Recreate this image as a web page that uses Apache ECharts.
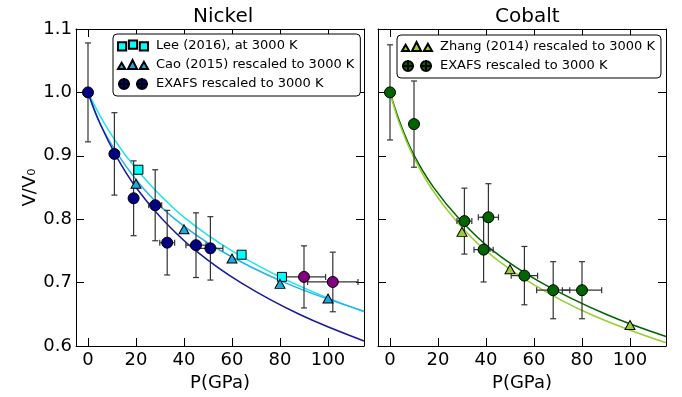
<!DOCTYPE html>
<html>
<head>
<meta charset="utf-8">
<script src="https://cdn.jsdelivr.net/npm/echarts@6.0.0/dist/echarts.min.js"></script>
<style>
  html, body { margin: 0; padding: 0; background: #fff; }
  #chart { width: 682px; height: 397px; }
</style>
</head>
<body>
<div id="chart"></div>
<script>
// tick values on the pressure axis (GPa)
const pTicks = [0, 20, 40, 60, 80, 100]

// ---- Nickel ----
// [P, V/V0]
const niLee = [[21, 0.878], [64, 0.744], [80.8, 0.709]]
const niCao = [[20, 0.856], [40, 0.784], [60, 0.738], [80, 0.698], [100, 0.675]]
// [P, V/V0, P error, V/V0 error]
const niExafs = [
  [0, 1.0, 0, 0.078], [11, 0.903, 0, 0.065], [19, 0.833, 0, 0.059],
  [28, 0.822, 2.7, 0.056], [33, 0.763, 3.1, 0.051], [45, 0.759, 4.2, 0.051],
  [51, 0.754, 5.2, 0.05],
]
const niExafsHot = [[90, 0.709, 9, 0.049], [102, 0.701, 10.5, 0.047]]
// fitted curves
const niLeeFit = [[0, 1.0], [7, 0.95], [16, 0.899], [27, 0.85], [41, 0.8], [60, 0.75], [85, 0.7], [115, 0.654]]
const niCaoFit = [[0, 1.0], [5, 0.951], [13, 0.899], [23, 0.849], [36, 0.801], [55, 0.751], [82, 0.7], [115, 0.655]]
const niExafsFit = [[0, 1.0], [5, 0.951], [12, 0.898], [20, 0.85], [31, 0.8], [45, 0.75], [64, 0.699], [88, 0.65], [115, 0.608]]

// ---- Cobalt ----
const coZhang = [[30, 0.78], [50, 0.721], [100, 0.633]]
const coExafs = [
  [0, 1.0, 0, 0.075], [10, 0.95, 0, 0.068], [31, 0.797, 3.1, 0.052],
  [39, 0.752, 4, 0.051], [41, 0.803, 4.2, 0.053], [56, 0.711, 5.5, 0.046],
  [68, 0.688, 6.9, 0.045], [80, 0.688, 8.2, 0.045],
]
const coExafsFit = [[0, 1.0], [4.4, 0.95], [10, 0.901], [18, 0.851], [29, 0.8], [43, 0.75], [63, 0.7], [90, 0.65], [115, 0.615]]
const coZhangFit = [[0, 1.0], [4, 0.95], [9.6, 0.9], [17, 0.85], [27, 0.8], [40, 0.75], [58.5, 0.7], [83.5, 0.65], [115, 0.605]]

const FONT = 'DejaVu Sans'

// legend icons: several markers like matplotlib draws them
const squaresIcon = 'path://M0,4h9v9h-9zM12,2h9v9h-9zM24,4h9v9h-9z'
const trianglesIcon = 'path://M0,13L4,6L8,13zM11,13L16,3L21,13zM24,13L28.5,5L33,13z'
const dotsIcon = 'path://M1,6a5,5 0 1,0 10,0a5,5 0 1,0 -10,0zM19,6a5,5 0 1,0 10,0a5,5 0 1,0 -10,0zM6,0V12M0,6H12M24,0V12M18,6H30'

function seg(x1, y1, x2, y2) {
  return { type: 'line', shape: { x1, y1, x2, y2 }, style: { stroke: '#333', lineWidth: 1.2 } }
}

// error bars with caps
function errorBars(params, api) {
  const x = api.value(0), y = api.value(1), dx = api.value(2), dy = api.value(3)
  const c = 3
  const t = api.coord([x, y + dy]), b = api.coord([x, y - dy])
  const kids = [
    seg(t[0], t[1], b[0], b[1]),
    seg(t[0] - c, t[1], t[0] + c, t[1]),
    seg(b[0] - c, b[1], b[0] + c, b[1]),
  ]
  if (dx > 0) {
    const l = api.coord([x - dx, y]), r = api.coord([x + dx, y])
    kids.push(seg(l[0], l[1], r[0], r[1]), seg(l[0], l[1] - c, l[0], l[1] + c), seg(r[0], r[1] - c, r[0], r[1] + c))
  }
  return { type: 'group', children: kids }
}

function xAxisFor(grid, pos) {
  const bottom = pos === 'bottom'
  return {
    type: 'value', gridIndex: grid, position: pos, min: -5, max: 115,
    name: bottom ? 'P(GPa)' : '', nameLocation: 'middle', nameGap: 26,
    nameTextStyle: { fontSize: 18, fontFamily: FONT, color: '#000' },
    axisLine: { show: true, onZero: false, lineStyle: { color: '#000', width: 1 } },
    axisTick: { show: true, inside: true, length: 8, customValues: pTicks, lineStyle: { color: '#000' } },
    axisLabel: { show: bottom, customValues: pTicks, margin: 5, fontSize: 18, fontFamily: FONT, color: '#000' },
    splitLine: { show: false },
  }
}

function yAxisFor(grid, pos, labels) {
  return {
    type: 'value', gridIndex: grid, position: pos, min: 0.6, max: 1.1, interval: 0.1,
    name: labels ? 'V/V\u2080' : '', nameLocation: 'middle', nameGap: 36,
    nameTextStyle: { fontSize: 18, fontFamily: FONT, color: '#000' },
    axisLine: { show: true, onZero: false, lineStyle: { color: '#000', width: 1 } },
    axisTick: { show: true, inside: true, length: 8, lineStyle: { color: '#000' } },
    axisLabel: { show: labels, margin: 4, fontSize: 18, fontFamily: FONT, color: '#000', formatter: v => v.toFixed(1) },
    splitLine: { show: false },
  }
}

function fitLine(name, data, color, xi, yi) {
  return {
    name, type: 'line', data, xAxisIndex: xi, yAxisIndex: yi,
    smooth: 0.4, showSymbol: false, symbol: 'none', z: 2,
    lineStyle: { color, width: 1.5 }, silent: true,
  }
}

function dots(name, data, color, symbol, size, xi, yi) {
  return {
    name, type: 'scatter', data, xAxisIndex: xi, yAxisIndex: yi, symbol, symbolSize: size, z: 5,
    itemStyle: { color, borderColor: '#000', borderWidth: 1, opacity: 1 },
  }
}

function bars(data, xi, yi) {
  return { type: 'custom', data, xAxisIndex: xi, yAxisIndex: yi, renderItem: errorBars, z: 3, silent: true,
    encode: { x: 0, y: 1 } }
}

const legendBase = {
  orient: 'vertical', itemWidth: 30, itemHeight: 12, itemGap: 6, selectedMode: false,
  borderColor: '#000', borderWidth: 1, borderRadius: 4, padding: [5, 6, 5, 4],
  backgroundColor: '#fff',
  textStyle: { fontSize: 13, fontFamily: FONT, color: '#000', padding: [0, 0, 0, 3] },
}

const option = {
  animation: false,
  backgroundColor: '#fff',
  title: [
    { text: 'Nickel', left: 188, top: 2, textStyle: { fontSize: 20, fontWeight: 'normal', fontFamily: FONT, color: '#000' } },
    { text: 'Cobalt', left: 490, top: 2, textStyle: { fontSize: 20, fontWeight: 'normal', fontFamily: FONT, color: '#000' } },
  ],
  grid: [
    { left: 76, top: 29, width: 288, height: 317 },
    { left: 378, top: 29, width: 288, height: 317 },
  ],
  xAxis: [xAxisFor(0, 'bottom'), xAxisFor(0, 'top'), xAxisFor(1, 'bottom'), xAxisFor(1, 'top')],
  yAxis: [yAxisFor(0, 'left', true), yAxisFor(0, 'right', false), yAxisFor(1, 'left', false), yAxisFor(1, 'right', false)],
  legend: [
    Object.assign({}, legendBase, {
      left: 113, top: 34,
      data: [
        { name: 'Lee (2016), at 3000 K', icon: squaresIcon },
        { name: 'Cao (2015) rescaled to 3000 K', icon: trianglesIcon },
        { name: 'EXAFS rescaled to 3000 K', icon: dotsIcon },
      ],
    }),
    Object.assign({}, legendBase, {
      left: 397, top: 35,
      data: [
        { name: 'Zhang (2014) rescaled to 3000 K', icon: trianglesIcon },
        { name: 'EXAFS rescaled to 3000 K ', icon: dotsIcon },
      ],
    }),
  ],
  series: [
    fitLine('Ni Lee fit', niLeeFit, '#19e6f0', 0, 0),
    fitLine('Ni Cao fit', niCaoFit, '#22b4ea', 0, 0),
    fitLine('Ni EXAFS fit', niExafsFit, '#1a1a9a', 0, 0),
    bars(niExafs, 0, 0),
    bars(niExafsHot, 0, 0),
    dots('Lee (2016), at 3000 K', niLee, '#00ffff', 'rect', 9, 0, 0),
    dots('Cao (2015) rescaled to 3000 K', niCao, '#1fa8e0', 'triangle', [10, 9], 0, 0),
    dots('EXAFS rescaled to 3000 K', niExafs, '#000080', 'circle', 11, 0, 0),
    dots('Ni EXAFS high P', niExafsHot, '#800080', 'circle', 11, 0, 0),

    fitLine('Co EXAFS fit', coExafsFit, '#006400', 2, 2),
    fitLine('Co Zhang fit', coZhangFit, '#9acd32', 2, 2),
    bars(coExafs, 2, 2),
    dots('Zhang (2014) rescaled to 3000 K', coZhang, '#9acd32', 'triangle', [10, 9], 2, 2),
    dots('EXAFS rescaled to 3000 K ', coExafs, '#006400', 'circle', 11, 2, 2),
  ],
}

echarts.init(document.getElementById('chart')).setOption(option)
</script>
</body>
</html>
